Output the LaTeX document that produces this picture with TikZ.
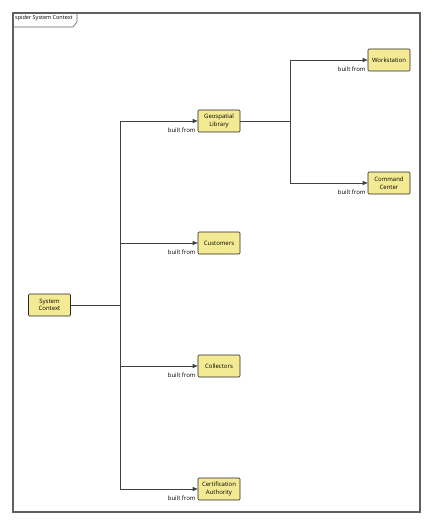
\documentclass[tikz,border=0pt]{standalone}
\usepackage{fontspec}
\setmainfont{Open Sans}
\usetikzlibrary{arrows.meta}
\definecolor{nodefill}{HTML}{F5EA94}
\definecolor{framegray}{HTML}{606060}
\tikzset{
  blk/.style={draw=black!85, fill=nodefill, rounded corners=1pt, line width=0.6pt,
    minimum width=42pt, minimum height=22pt, inner sep=1pt, align=center,
    font=\fontsize{6}{7.5}\selectfont},
  conn/.style={draw=black!75, line width=0.6pt},
  arr/.style={conn, -{Triangle[length=5pt,width=4pt]}},
  lbl/.style={font=\fontsize{6}{7}\selectfont, anchor=north east, inner sep=1pt}
}
\begin{document}
\begin{tikzpicture}[x=1pt,y=-1pt]
\useasboundingbox (0,0) rectangle (433,524);
% frame
\draw[framegray, line width=1.2pt] (13,13) rectangle (420,512);
\node[anchor=north west, inner sep=1.5pt, font=\fontsize{5.5}{6.5}\selectfont] (title) at (13.5,14) {spider System Context};
\draw[framegray, line width=0.6pt] (13,27) -- (73,27) -- (77,22) -- (77,13);
% nodes
\node[blk] (sc) at (49.5,305) {System\\Context};
\node[blk] (geo) at (219,121) {Geospatial\\Library};
\node[blk] (cus) at (219,243) {Customers};
\node[blk] (col) at (219,366) {Collectors};
\node[blk] (cert) at (219,489) {Certification\\Authority};
\node[blk] (ws) at (389,60) {Workstation};
\node[blk] (cc) at (389,183) {Command\\Center};
% junctions
\coordinate (j1) at (120,305);
\coordinate (j2) at (290,121);
% connectors
\draw[conn] (sc.east) -- (j1);
\draw[arr] (j1) |- (geo.west);
\draw[arr] (j1) |- (cus.west);
\draw[arr] (j1) |- (col.west);
\draw[arr] (j1) |- (cert.west);
\draw[conn] (geo.east) -- (j2);
\draw[arr] (j2) |- (ws.west);
\draw[arr] (j2) |- (cc.west);
% labels
\node[lbl] (l1) at ([shift={(-1,6)}]geo.west) {built from};
\node[lbl] (l2) at ([shift={(-1,6)}]cus.west) {built from};
\node[lbl] (l3) at ([shift={(-1,6)}]col.west) {built from};
\node[lbl] (l4) at ([shift={(-1,6)}]cert.west) {built from};
\node[lbl] (l5) at ([shift={(-1,6)}]ws.west) {built from};
\node[lbl] (l6) at ([shift={(-1,6)}]cc.west) {built from};
\end{tikzpicture}
\end{document}
